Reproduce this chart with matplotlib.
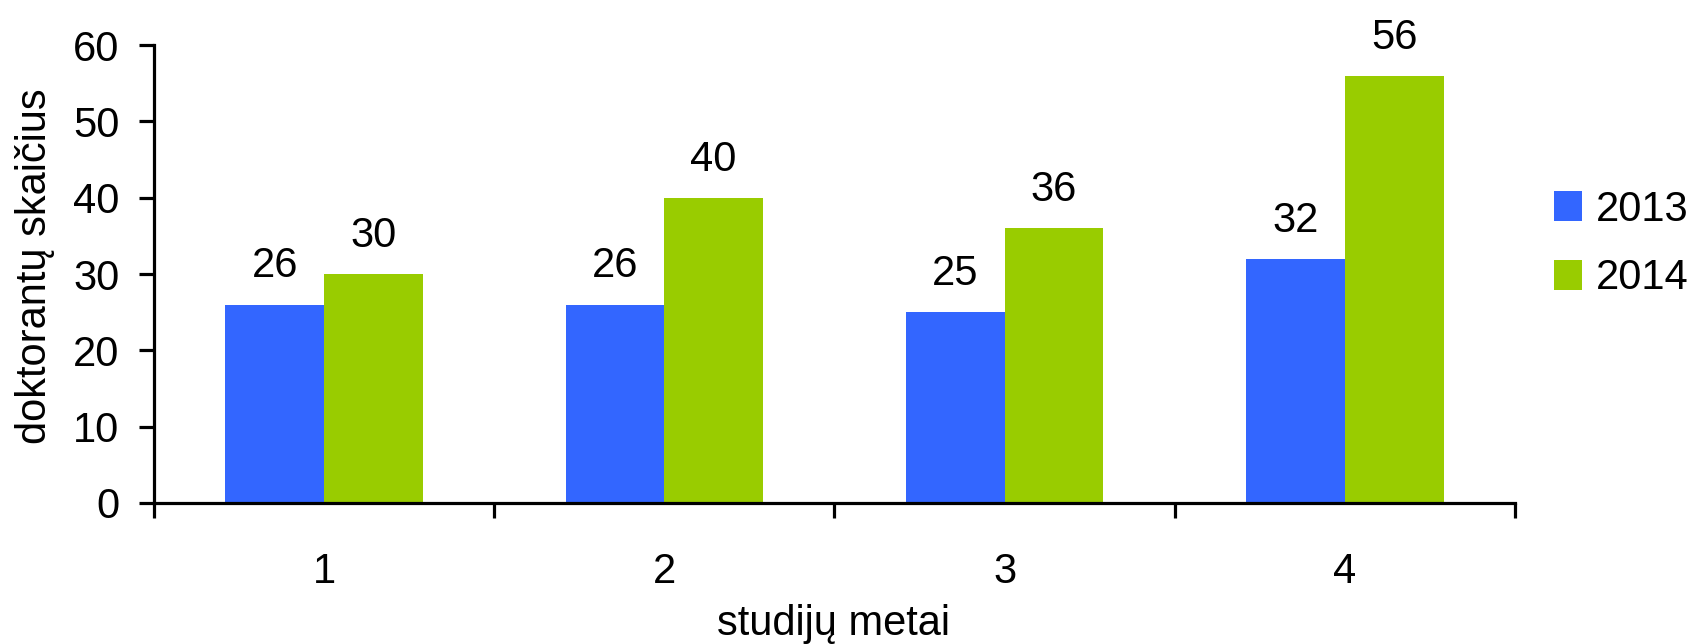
import matplotlib
matplotlib.use("Agg")
import matplotlib.pyplot as plt
import numpy as np

plt.rcParams['font.family'] = ['Liberation Sans', 'DejaVu Sans']

# duomenys
years = ['1', '2', '3', '4']
series_names = ['2013', '2014']
vals_2013 = [26, 26, 25, 32]
vals_2014 = [30, 40, 36, 56]
colors = ['#3366FF', '#99CC00']

fs = 30
fig = plt.figure(figsize=(16.88, 6.44), dpi=100)
ax = fig.add_axes([0.0912, 0.219, 0.8063, 0.711])

x = np.arange(len(years))
w = 0.29
b1 = ax.bar(x - w / 2, vals_2013, w, color=colors[0], label=series_names[0])
b2 = ax.bar(x + w / 2, vals_2014, w, color=colors[1], label=series_names[1])

for bars, vals in ((b1, vals_2013), (b2, vals_2014)):
    for r, v in zip(bars, vals):
        ax.annotate(str(v), (r.get_x() + r.get_width() / 2, v),
                    xytext=(0, 19.5), textcoords='offset points',
                    ha='center', va='baseline', fontsize=fs)

ax.set_xlim(-0.5, 3.5)
ax.set_ylim(0, 60)
ax.set_yticks(range(0, 61, 10))
ax.set_xticks(x)
ax.set_xticklabels(years)
ax.set_xticks(np.arange(-0.5, 3.6, 1), minor=True)
ax.tick_params(axis='x', which='major', length=0, pad=35, labelsize=fs)
ax.tick_params(axis='x', which='minor', length=11, width=2.3, direction='out')
ax.tick_params(axis='y', length=11, width=2.3, pad=14, labelsize=fs)

for s in ['top', 'right']:
    ax.spines[s].set_visible(False)
ax.spines['left'].set_linewidth(2.3)
ax.spines['bottom'].set_linewidth(2.3)

fig.text(0.021, 0.587, 'doktorantų skaičius', rotation=90,
         ha='center', va='center', fontsize=fs)
fig.text(0.494, 0.014, 'studijų metai', ha='center', va='baseline', fontsize=fs)

fig.legend(loc='center left', bbox_to_anchor=(0.9206, 0.621), frameon=False,
           fontsize=fs, handlelength=0.67, handleheight=0.72, handletextpad=0.34,
           labelspacing=0.68, borderpad=0, borderaxespad=0)

fig.savefig('out.png', dpi=100)
